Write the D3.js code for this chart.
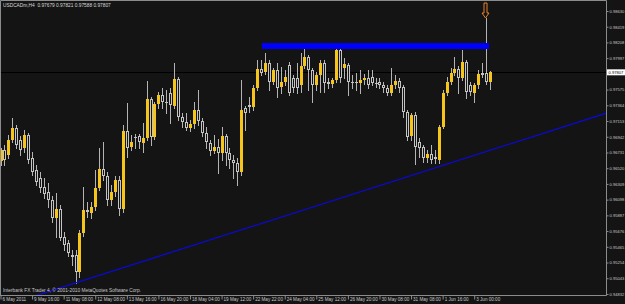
<!DOCTYPE html>
<html>
<head>
<meta charset="utf-8">
<script src="https://cdn.jsdelivr.net/npm/d3@7"></script>
<style>
  html, body { margin: 0; padding: 0; background: #141414; }
  svg { display: block; }
</style>
</head>
<body>
<div id="chart"></div>
<script>
// USDCADm H4 candles (6 May - 3 Jun 2011)
const candleOpen = [
  0.9662, 0.9676, 0.9670, 0.9690, 0.9706, 0.9690, 0.9679, 0.9697, 0.9666, 0.9650,
  0.9639, 0.9627, 0.9620, 0.9609, 0.9585, 0.9597, 0.9560, 0.9552, 0.9536, 0.9536,
  0.9513, 0.9565, 0.9596, 0.9592, 0.9600, 0.9625, 0.9651, 0.9642, 0.9609, 0.9620,
  0.9636, 0.9597, 0.9702, 0.9680, 0.9694, 0.9695, 0.9686, 0.9693, 0.9745, 0.9694,
  0.9738, 0.9750, 0.9741, 0.9753, 0.9736, 0.9772, 0.9721, 0.9714, 0.9706, 0.9711,
  0.9730, 0.9715, 0.9699, 0.9686, 0.9675, 0.9681, 0.9672, 0.9695, 0.9672, 0.9663,
  0.9659, 0.9647, 0.9733, 0.9737, 0.9734, 0.9760, 0.9785, 0.9781, 0.9793, 0.9768,
  0.9784, 0.9761, 0.9768, 0.9791, 0.9773, 0.9773, 0.9764, 0.9789, 0.9801, 0.9784,
  0.9764, 0.9777, 0.9793, 0.9768, 0.9765, 0.9770, 0.9811, 0.9786, 0.9791, 0.9768,
  0.9768, 0.9766, 0.9770, 0.9773, 0.9774, 0.9767, 0.9768, 0.9764, 0.9760, 0.9753,
  0.9764, 0.9769, 0.9761, 0.9727, 0.9695, 0.9723, 0.9687, 0.9681, 0.9666, 0.9671,
  0.9667, 0.9663, 0.9707, 0.9753, 0.9768, 0.9780, 0.9785, 0.9773, 0.9795, 0.9764,
  0.9753, 0.9764, 0.9780, 0.9780, 0.97679
];
const candleHigh = [
  0.9679, 0.9683, 0.9697, 0.9719, 0.9710, 0.9695, 0.9703, 0.9699, 0.9674, 0.9656,
  0.9647, 0.9639, 0.9632, 0.9615, 0.9619, 0.9603, 0.9566, 0.9556, 0.9542, 0.9542,
  0.9569, 0.9627, 0.9607, 0.9607, 0.9650, 0.9679, 0.9687, 0.9647, 0.9629, 0.9642,
  0.9642, 0.9710, 0.9740, 0.9697, 0.9698, 0.9698, 0.9713, 0.9769, 0.9748, 0.9741,
  0.9754, 0.9760, 0.9757, 0.9760, 0.9793, 0.9774, 0.9726, 0.9726, 0.9717, 0.9741,
  0.9757, 0.9719, 0.9707, 0.9690, 0.9697, 0.9691, 0.9707, 0.9698, 0.9679, 0.9670,
  0.9666, 0.9770, 0.9736, 0.9748, 0.9764, 0.9797, 0.9797, 0.9807, 0.9797, 0.9787,
  0.9793, 0.9788, 0.9784, 0.9795, 0.9777, 0.9793, 0.9807, 0.9817, 0.9804, 0.9787,
  0.9781, 0.9797, 0.9797, 0.9773, 0.9773, 0.9817, 0.9813, 0.9800, 0.9793, 0.9777,
  0.9780, 0.9784, 0.9778, 0.9784, 0.9784, 0.9773, 0.9773, 0.9768, 0.9764, 0.9787,
  0.9777, 0.9773, 0.9764, 0.9730, 0.9726, 0.9727, 0.9693, 0.9683, 0.9676, 0.9683,
  0.9676, 0.9710, 0.9757, 0.9774, 0.9787, 0.9801, 0.9789, 0.9811, 0.9797, 0.9768,
  0.9766, 0.9784, 0.9793, 0.9854, 0.97821
];
const candleLow = [
  0.9656, 0.9656, 0.9666, 0.9687, 0.9679, 0.9670, 0.9674, 0.9659, 0.9643, 0.9629,
  0.9620, 0.9612, 0.9600, 0.9580, 0.9560, 0.9555, 0.9542, 0.9534, 0.9522, 0.9498,
  0.9506, 0.9561, 0.9586, 0.9585, 0.9596, 0.9623, 0.9636, 0.9603, 0.9603, 0.9615,
  0.9589, 0.9593, 0.9667, 0.9676, 0.9679, 0.9679, 0.9674, 0.9690, 0.9683, 0.9691,
  0.9733, 0.9733, 0.9726, 0.9713, 0.9733, 0.9717, 0.9707, 0.9703, 0.9702, 0.9706,
  0.9710, 0.9695, 0.9679, 0.9670, 0.9672, 0.9646, 0.9663, 0.9656, 0.9652, 0.9639,
  0.9629, 0.9643, 0.9703, 0.9727, 0.9730, 0.9757, 0.9777, 0.9779, 0.9757, 0.9765,
  0.9748, 0.9753, 0.9764, 0.9750, 0.9754, 0.9753, 0.9754, 0.9787, 0.9757, 0.9741,
  0.9757, 0.9754, 0.9754, 0.9760, 0.9761, 0.9768, 0.9768, 0.9773, 0.9750, 0.9760,
  0.9757, 0.9753, 0.9765, 0.9760, 0.9764, 0.9761, 0.9760, 0.9754, 0.9750, 0.9750,
  0.9760, 0.9754, 0.9721, 0.9690, 0.9690, 0.9657, 0.9667, 0.9660, 0.9660, 0.9659,
  0.9659, 0.9659, 0.9706, 0.9750, 0.9765, 0.9777, 0.9753, 0.9770, 0.9746, 0.9750,
  0.9741, 0.9760, 0.9774, 0.9765, 0.97588
];
const candleClose = [
  0.9676, 0.9663, 0.9690, 0.9706, 0.9683, 0.9676, 0.9697, 0.9663, 0.9647, 0.9634,
  0.9625, 0.9617, 0.9609, 0.9585, 0.9597, 0.9558, 0.9549, 0.9538, 0.9533, 0.9513,
  0.9565, 0.9596, 0.9593, 0.9600, 0.9625, 0.9651, 0.9642, 0.9609, 0.9620, 0.9636,
  0.9597, 0.9702, 0.9679, 0.9687, 0.9693, 0.9687, 0.9693, 0.9745, 0.9694, 0.9738,
  0.9750, 0.9741, 0.9740, 0.9737, 0.9772, 0.9721, 0.9714, 0.9706, 0.9711, 0.9730,
  0.9715, 0.9699, 0.9687, 0.9675, 0.9681, 0.9672, 0.9695, 0.9672, 0.9663, 0.9659,
  0.9647, 0.9730, 0.9726, 0.9734, 0.9760, 0.9785, 0.9780, 0.9793, 0.9768, 0.9784,
  0.9760, 0.9768, 0.9775, 0.9753, 0.9760, 0.9760, 0.9789, 0.9801, 0.9784, 0.9764,
  0.9777, 0.9793, 0.9766, 0.9765, 0.9770, 0.9811, 0.9773, 0.9792, 0.9768, 0.9766,
  0.9766, 0.9770, 0.9773, 0.9764, 0.9766, 0.9766, 0.9764, 0.9760, 0.9753, 0.9764,
  0.9769, 0.9760, 0.9727, 0.9694, 0.9723, 0.9681, 0.9679, 0.9666, 0.9671, 0.9663,
  0.9664, 0.9707, 0.9753, 0.9768, 0.9780, 0.9785, 0.9773, 0.9795, 0.9754, 0.9754,
  0.9764, 0.9778, 0.9777, 0.9768, 0.97807
];

// time axis: bar index of each separator and its label
const timeTickBars = [0, 8, 16, 24, 32, 40, 48, 56, 64, 72, 80, 88, 96, 104, 112, 120];
const timeTickLabels = [
  '6 May 2011', '9 May 16:00', '11 May 08:00', '12 May 08:00', '13 May 16:00',
  '16 May 20:00', '18 May 04:00', '19 May 12:00', '22 May 22:00', '24 May 04:00',
  '25 May 12:00', '26 May 20:00', '30 May 08:00', '31 May 08:00', '1 Jun 16:00', '3 Jun 00:00'
];

// price axis labels (the one under the current price tag is hidden in the screenshot)
const priceTicks = [
  0.98630, 0.98419, 0.98208, 0.97997, 0.97575, 0.97364, 0.97153, 0.96942, 0.96731,
  0.96520, 0.96309, 0.96098, 0.95887, 0.95676, 0.95465, 0.95254, 0.95043, 0.94832
];

const headerText = 'USDCADm,H4  0.97679 0.97821 0.97588 0.97807';
const footerText = 'Interbank FX Trader 4, \u00a9 2001-2010 MetaQuotes Software Corp.';
const lastPrice = 0.97807;

// drawn objects: thick resistance line, rising trend line, arrow on the spike bar
const resistanceBars = [66.25, 123.75];
const resistancePrices = [0.9820, 0.9812];
const trendBars = [19, 124];
const trendPrices = [0.9498, 0.9676];
const arrowBar = 123;

const W = 625, H = 304;
const plotRight = 606, plotBottom = 295;
const bg = '#141414';
const font = '"Liberation Sans", Arial, sans-serif';

const svg = d3.select('#chart').append('svg')
  .attr('width', W).attr('height', H)
  .style('background', bg);

const x = d3.scaleLinear().domain([0, 124]).range([0.5, 490]);
const y = d3.scaleLinear().domain([0.94818, 0.98630]).range([plotBottom, 11]);

svg.append('clipPath').attr('id', 'plotClip')
  .append('rect').attr('x', 1).attr('y', 1).attr('width', plotRight - 1).attr('height', plotBottom - 1);

const plot = svg.append('g').attr('clip-path', 'url(#plotClip)');

// bid line
plot.append('line')
  .attr('x1', 0).attr('x2', plotRight)
  .attr('y1', Math.round(y(lastPrice)) + 0.5).attr('y2', Math.round(y(lastPrice)) + 0.5)
  .attr('stroke', '#000').attr('stroke-width', 1);

// candles
const candles = candleOpen.map((o, i) => ({
  i, o, h: candleHigh[i], l: candleLow[i], c: candleClose[i]
}));

const cg = plot.append('g');
candles.forEach(d => {
  const cx = Math.round(x(d.i)) + 0.5;
  cg.append('line')
    .attr('x1', cx).attr('x2', cx)
    .attr('y1', Math.round(y(d.h))).attr('y2', Math.round(y(d.l)) + 1)
    .attr('stroke', '#b4b4b4').attr('stroke-width', 1);
  const top = Math.round(y(Math.max(d.o, d.c)));
  const bot = Math.round(y(Math.min(d.o, d.c)));
  if (d.c > d.o) {
    cg.append('rect')
      .attr('x', cx - 1.5).attr('y', top)
      .attr('width', 3).attr('height', Math.max(1, bot - top))
      .attr('fill', '#f5c51c');
  } else if (bot - top >= 2) {
    cg.append('rect')
      .attr('x', cx - 1).attr('y', top + 0.5)
      .attr('width', 2).attr('height', bot - top - 1)
      .attr('fill', bg).attr('stroke', '#c4c4c4').attr('stroke-width', 1);
  } else {
    cg.append('line')
      .attr('x1', cx - 1.5).attr('x2', cx + 1.5)
      .attr('y1', top + 0.5).attr('y2', top + 0.5)
      .attr('stroke', '#c4c4c4').attr('stroke-width', 1);
  }
});

// thick horizontal line
plot.append('rect')
  .attr('x', x(resistanceBars[0])).attr('y', y(resistancePrices[0]))
  .attr('width', x(resistanceBars[1]) - x(resistanceBars[0]))
  .attr('height', y(resistancePrices[1]) - y(resistancePrices[0]))
  .attr('fill', '#0000ff');

// trend line, extended across the plot
const slope = (trendPrices[1] - trendPrices[0]) / (trendBars[1] - trendBars[0]);
const tl = b => trendPrices[0] + (b - trendBars[0]) * slope;
plot.append('line')
  .attr('x1', x(0)).attr('y1', y(tl(0)))
  .attr('x2', x(160)).attr('y2', y(tl(160)))
  .attr('stroke', '#0a0ad2').attr('stroke-width', 1.3);

// orange down arrow above the spike
const ax = Math.round(x(arrowBar)) - 0.5;
const ay = Math.round(y(candleHigh[arrowBar]));
plot.append('path')
  .attr('d', `M${ax},${ay} L${ax - 3.5},${ay - 5} L${ax - 1.5},${ay - 5} L${ax - 1.5},${ay - 15}` +
             ` L${ax + 1.5},${ay - 15} L${ax + 1.5},${ay - 5} L${ax + 3.5},${ay - 5} Z`)
  .attr('fill', 'none').attr('stroke', '#e8822a').attr('stroke-width', 1);

// frame
svg.append('path')
  .attr('d', `M0.5,${plotBottom + 0.5} V0.5 H${plotRight + 0.5} V${plotBottom + 0.5} H0`)
  .attr('fill', 'none').attr('stroke', '#8c8c8c').attr('stroke-width', 1);

// price axis (labels kept narrow enough to fit the 18px strip)
const yAxis = d3.axisRight(y).tickValues(priceTicks).tickSize(2).tickPadding(1)
  .tickFormat(d3.format('.5f'));
const yg = svg.append('g').attr('transform', `translate(${plotRight + 0.5},0)`).call(yAxis);
yg.select('.domain').remove();
yg.selectAll('line').attr('stroke', '#8c8c8c');
yg.selectAll('text').attr('fill', '#c8c8c8').style('font', `4.1px ${font}`);

// current price tag
const py = y(lastPrice);
svg.append('rect').attr('x', plotRight + 1).attr('y', py - 3).attr('width', 18).attr('height', 6).attr('fill', '#fff');
svg.append('text').attr('x', plotRight + 2.5).attr('y', py + 1.5)
  .attr('fill', '#000').style('font', `4.1px ${font}`).text(d3.format('.5f')(lastPrice));

// time axis
const xAxis = d3.axisBottom(x).tickValues(timeTickBars).tickSize(4)
  .tickFormat((d, i) => timeTickLabels[i]);
const xg = svg.append('g').attr('transform', `translate(0,${plotBottom + 0.5})`).call(xAxis);
xg.select('.domain').remove();
xg.selectAll('line').attr('stroke', '#8c8c8c');
xg.selectAll('text')
  .attr('text-anchor', 'start').attr('x', 1.5).attr('y', 2.5)
  .attr('fill', '#c8c8c8').style('font', `4.6px ${font}`);

// header and copyright
svg.append('text').attr('x', 3).attr('y', 7.2)
  .attr('fill', '#d8d8d8').style('font', `4.8px ${font}`).style('white-space', 'pre')
  .text(headerText);
svg.append('text').attr('x', 3).attr('y', 292)
  .attr('fill', '#c8c8c8').style('font', `4.8px ${font}`)
  .text(footerText);
</script>
</body>
</html>
